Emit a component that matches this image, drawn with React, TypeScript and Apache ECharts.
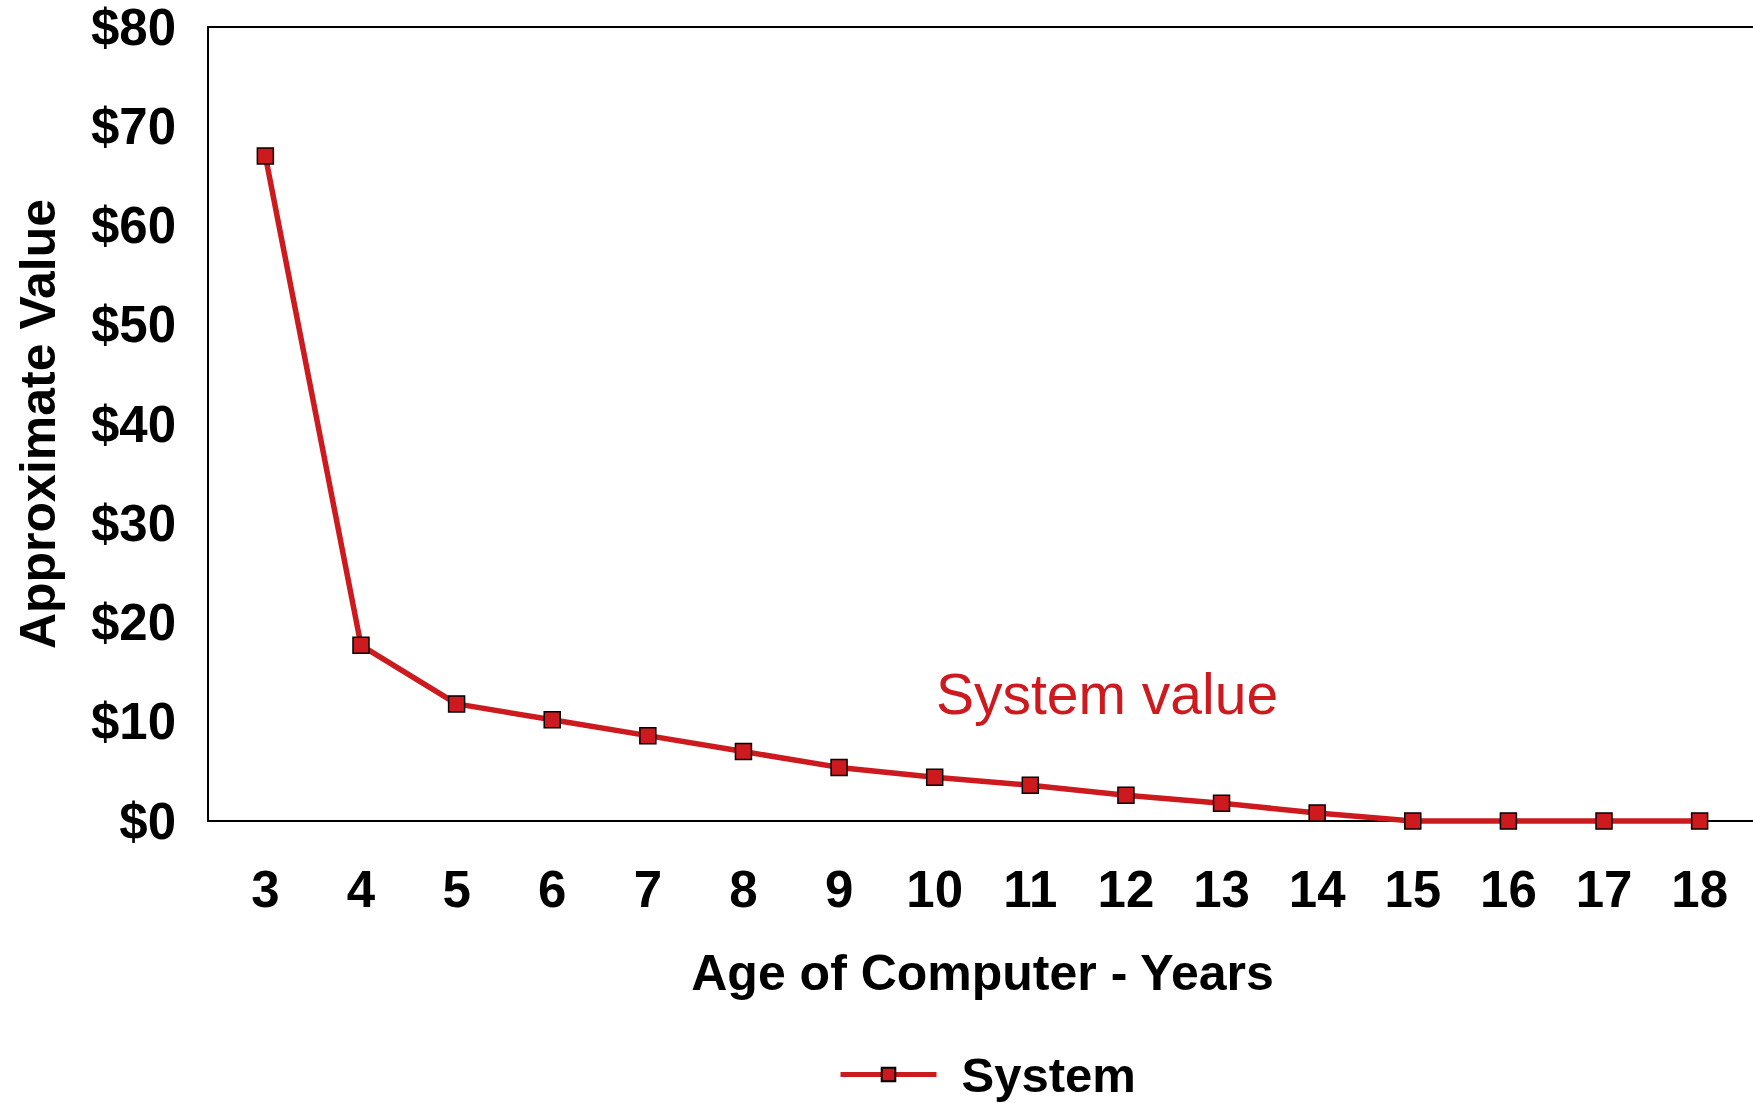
import React, { useEffect, useRef } from "react";
import * as echarts from "echarts";

const ages = [3, 4, 5, 6, 7, 8, 9, 10, 11, 12, 13, 14, 15, 16, 17, 18];
const systemValues = [67, 17.7, 11.8, 10.2, 8.6, 7.0, 5.4, 4.4, 3.6, 2.6, 1.8, 0.8, 0, 0, 0, 0];
const yTicks = [0, 10, 20, 30, 40, 50, 60, 70, 80];
const seriesName = "System";
const annotation = "System value";

const FONT = "Arial, 'Liberation Sans', Helvetica, sans-serif";
const RED = "#CC1A1F";

export default function App() {
  const ref = useRef<HTMLDivElement>(null);
  useEffect(() => {
    document.body.style.margin = "0";
    if (!ref.current) return;
    const chart = echarts.init(ref.current, null, { renderer: "svg" });
    chart.setOption({
      animation: false,
      backgroundColor: "#ffffff",
      grid: {
        left: 208,
        top: 27,
        width: 1549,
        height: 794,
        show: true,
        borderColor: "#000",
        borderWidth: 2,
        containLabel: false,
        outerBoundsMode: "none",
      },
      xAxis: {
        type: "value",
        min: 2.4,
        max: 18.6,
        name: "Age of Computer - Years",
        nameLocation: "middle",
        nameGap: 127,
        nameTextStyle: { fontFamily: FONT, fontWeight: "bold", fontSize: 50, color: "#000" },
        axisLine: { show: true, lineStyle: { color: "#000", width: 2 } },
        axisTick: { show: false },
        splitLine: { show: false },
        axisLabel: {
          customValues: ages,
          margin: 43,
          fontFamily: FONT,
          fontWeight: "bold",
          fontSize: 51,
          color: "#000",
          formatter: (v: number) => String(v),
        },
      },
      yAxis: {
        type: "value",
        min: 0,
        max: 80,
        interval: 10,
        name: "Approximate Value",
        nameLocation: "middle",
        nameGap: 145,
        nameRotate: 90,
        nameTextStyle: { fontFamily: FONT, fontWeight: "bold", fontSize: 50, color: "#000" },
        axisLine: { show: true, lineStyle: { color: "#000", width: 2 } },
        axisTick: { show: false },
        splitLine: { show: false },
        axisLabel: {
          customValues: yTicks,
          margin: 32,
          fontFamily: FONT,
          fontWeight: "bold",
          fontSize: 51,
          color: "#000",
          formatter: (v: number) => "$" + v,
        },
      },
      legend: {
        left: 838,
        top: 1050,
        padding: 0,
        data: [seriesName],
        itemWidth: 96,
        itemHeight: 17,
        lineStyle: { width: 5 },
        textStyle: {
          fontFamily: FONT,
          fontWeight: "bold",
          fontSize: 49,
          color: "#000",
          padding: [0, 0, 0, 20],
        },
      },
      graphic: [
        {
          type: "text",
          x: 936,
          y: 694,
          style: {
            text: annotation,
            fontFamily: FONT,
            fontSize: 57,
            fill: RED,
            verticalAlign: "middle",
          },
        },
      ],
      series: [
        {
          name: seriesName,
          type: "line",
          data: ages.map((a, i) => [a, systemValues[i]]),
          symbol: "rect",
          symbolSize: 16,
          showAllSymbol: true,
          clip: false,
          itemStyle: { color: RED, borderColor: "#000", borderWidth: 1.5 },
          lineStyle: { color: RED, width: 5.5 },
        },
      ],
    });
    return () => chart.dispose();
  }, []);
  return <div ref={ref} style={{ width: 1753, height: 1103 }} />;
}
